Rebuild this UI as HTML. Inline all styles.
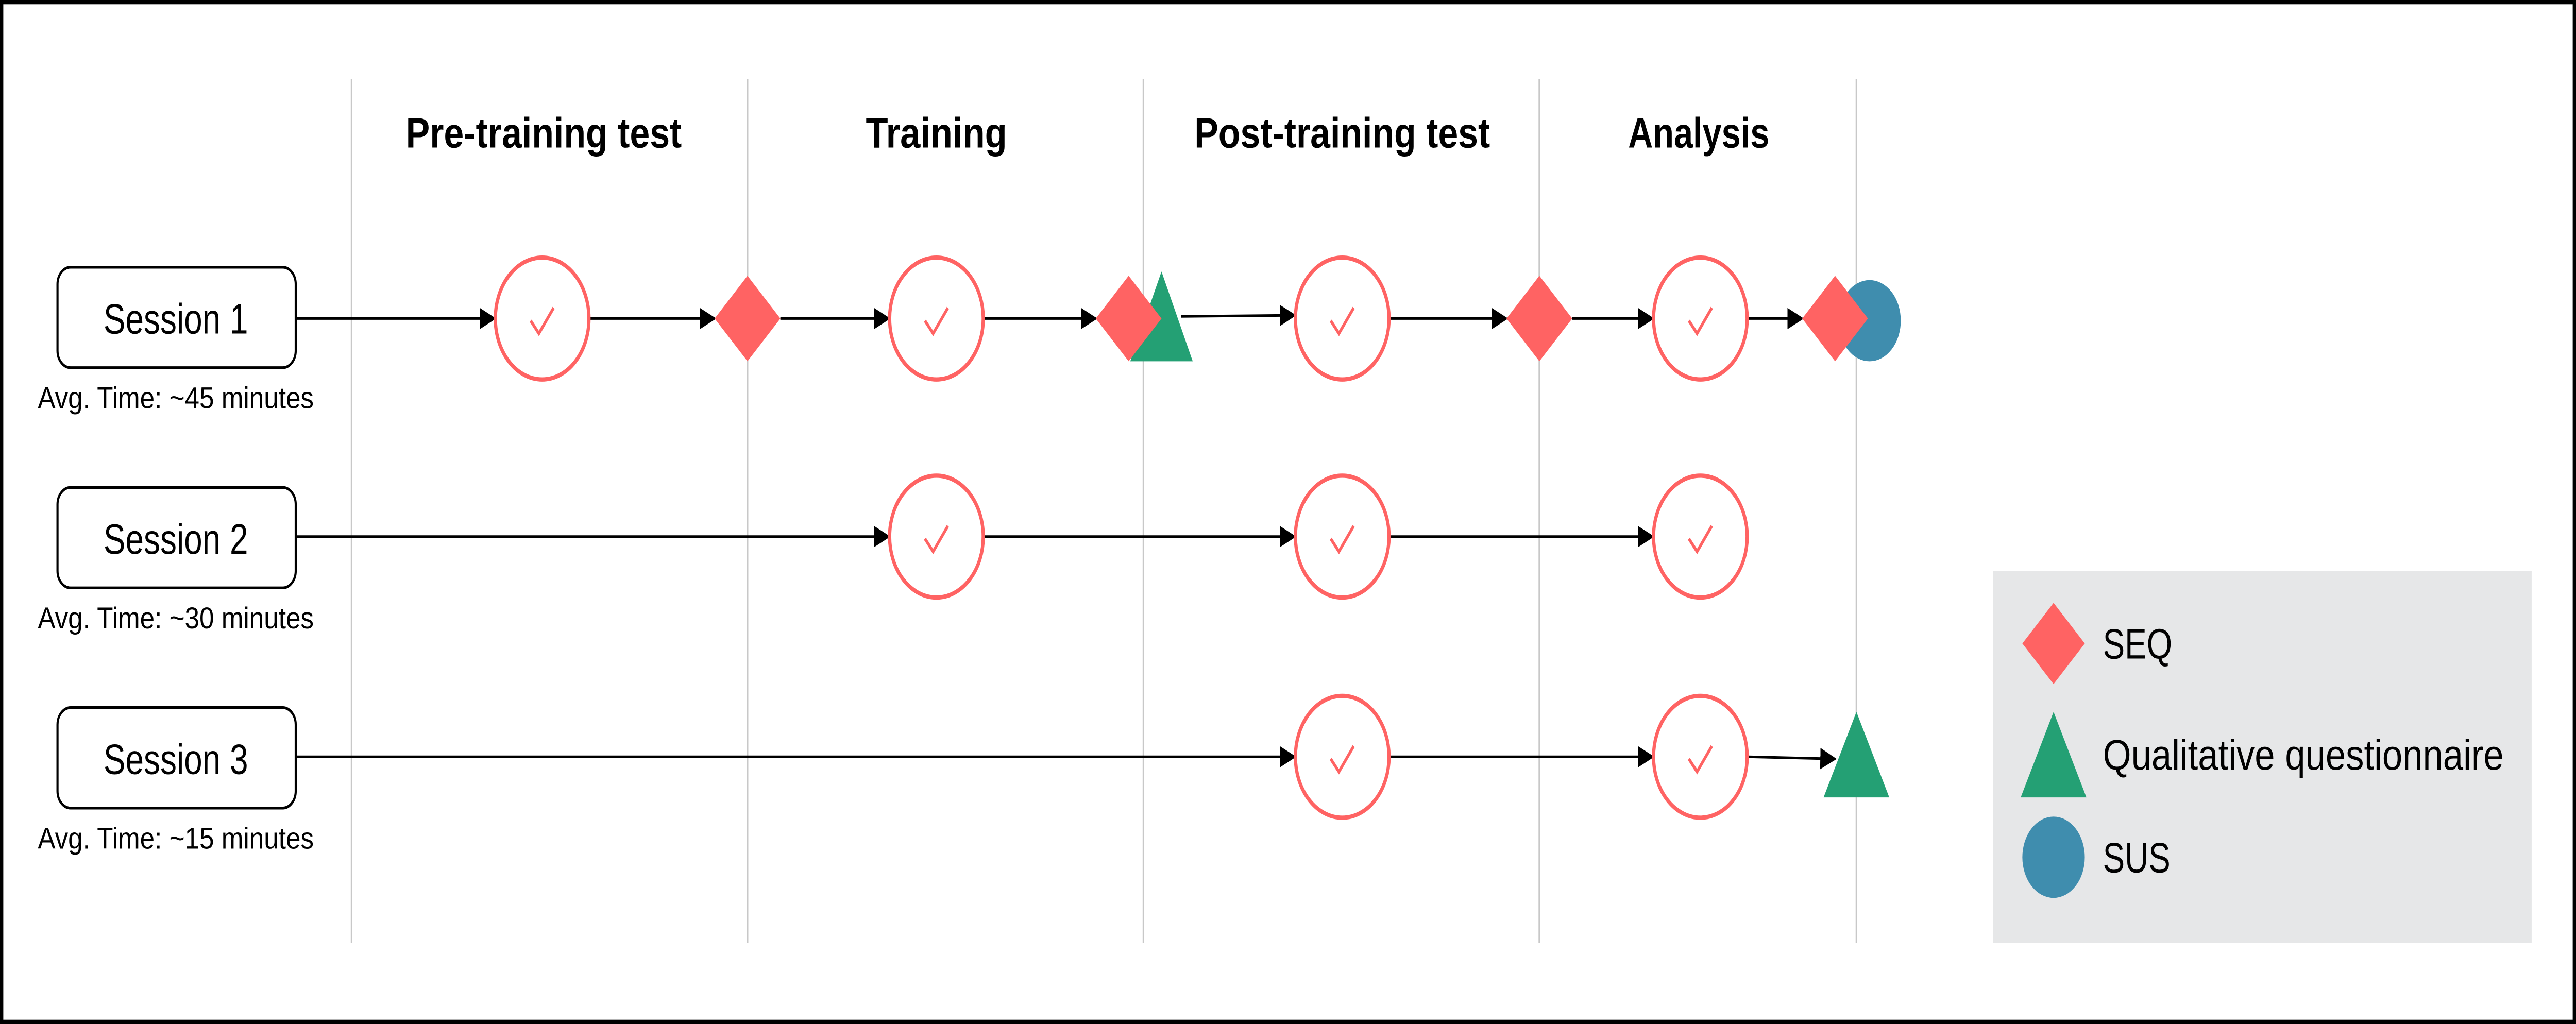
<!DOCTYPE html>
<html><head><meta charset="utf-8"><style>
html,body{margin:0;padding:0;background:#fff;width:100%;height:100%;overflow:hidden;}
svg{display:block;position:absolute;left:0;top:0;width:100vw;height:100vh;}
text{font-family:"Liberation Sans",sans-serif;}
</style></head><body>
<svg viewBox="0 0 1568 479" preserveAspectRatio="none" xmlns="http://www.w3.org/2000/svg">
<defs>
<marker id="a" markerWidth="10" markerHeight="10" refX="9" refY="5" orient="auto" markerUnits="userSpaceOnUse">
<path d="M0,0 L10,5 L0,10 Z" fill="#000"/>
</marker>
<g id="chk">
<circle r="28.5" fill="#fff" stroke="#FF6363" stroke-width="2"/>
<path d="M-7,1 L-2,7 L7,-5" fill="none" stroke="#FF6363" stroke-width="1.6"/>
</g>
</defs>
<rect x="1" y="1" width="1566" height="477" fill="#fff" stroke="#000" stroke-width="2"/>
<g stroke="#c8c8c8" stroke-width="1">
<line x1="214" y1="37" x2="214" y2="441"/>
<line x1="455" y1="37" x2="455" y2="441"/>
<line x1="696" y1="37" x2="696" y2="441"/>
<line x1="937" y1="37" x2="937" y2="441"/>
<line x1="1130" y1="37" x2="1130" y2="441"/>
</g>
<g font-weight="bold" font-size="20" text-anchor="middle">
<text x="331" y="69" textLength="168" lengthAdjust="spacingAndGlyphs">Pre-training test</text>
<text x="570" y="69" textLength="86" lengthAdjust="spacingAndGlyphs">Training</text>
<text x="817" y="69" textLength="180" lengthAdjust="spacingAndGlyphs">Post-training test</text>
<text x="1034" y="69" textLength="86" lengthAdjust="spacingAndGlyphs">Analysis</text>
</g>
<rect x="1213" y="267" width="328" height="174" fill="#E6E7E8"/>
<path d="M1250,282 L1269,301 L1250,320 L1231,301 Z" fill="#FF6363"/>
<path d="M1250,333 L1270,373 L1230,373 Z" fill="#24A074"/>
<circle cx="1250" cy="401" r="19" fill="#3F8DAE"/>
<g font-size="20">
<text x="1280" y="308">SEQ</text>
<text x="1280" y="360" textLength="244" lengthAdjust="spacingAndGlyphs">Qualitative questionnaire</text>
<text x="1280" y="408">SUS</text>
</g>
<g fill="#fff" stroke="#000" stroke-width="1.3">
<rect x="35" y="125" width="145" height="47" rx="8"/>
<rect x="35" y="228" width="145" height="47" rx="8"/>
<rect x="35" y="331" width="145" height="47" rx="8"/>
</g>
<g font-size="20" text-anchor="middle">
<text x="107" y="156" textLength="88" lengthAdjust="spacingAndGlyphs">Session 1</text>
<text x="107" y="259" textLength="88" lengthAdjust="spacingAndGlyphs">Session 2</text>
<text x="107" y="362" textLength="88" lengthAdjust="spacingAndGlyphs">Session 3</text>
</g>
<g font-size="14" text-anchor="middle">
<text x="107" y="191" textLength="168" lengthAdjust="spacingAndGlyphs">Avg. Time: ~45 minutes</text>
<text x="107" y="294" textLength="168" lengthAdjust="spacingAndGlyphs">Avg. Time: ~30 minutes</text>
<text x="107" y="397" textLength="168" lengthAdjust="spacingAndGlyphs">Avg. Time: ~15 minutes</text>
</g>
<g stroke="#000" stroke-width="1.2" marker-end="url(#a)">
<line x1="180" y1="149" x2="301" y2="149"/>
<line x1="359" y1="149" x2="435" y2="149"/>
<line x1="475" y1="149" x2="541" y2="149"/>
<line x1="599" y1="149" x2="667" y2="149"/>
<line x1="719" y1="148" x2="788" y2="147.5"/>
<line x1="846" y1="149" x2="917" y2="149"/>
<line x1="957" y1="149" x2="1006" y2="149"/>
<line x1="1064" y1="149" x2="1097" y2="149"/>
<line x1="180" y1="251" x2="541" y2="251"/>
<line x1="599" y1="251" x2="788" y2="251"/>
<line x1="846" y1="251" x2="1006" y2="251"/>
<line x1="180" y1="354" x2="788" y2="354"/>
<line x1="846" y1="354" x2="1006" y2="354"/>
<line x1="1064" y1="354" x2="1117" y2="355"/>
</g>
<use href="#chk" x="330" y="149"/>
<use href="#chk" x="570" y="149"/>
<use href="#chk" x="817" y="149"/>
<use href="#chk" x="1035" y="149"/>
<use href="#chk" x="570" y="251"/>
<use href="#chk" x="817" y="251"/>
<use href="#chk" x="1035" y="251"/>
<use href="#chk" x="817" y="354"/>
<use href="#chk" x="1035" y="354"/>
<path d="M455,129 L475,149 L455,169 L435,149 Z" fill="#FF6363"/>
<path d="M707,127 L726,169 L688,169 Z" fill="#24A074"/>
<path d="M687,129 L707,149 L687,169 L667,149 Z" fill="#FF6363"/>
<path d="M937,129 L957,149 L937,169 L917,149 Z" fill="#FF6363"/>
<circle cx="1138" cy="150" r="19" fill="#3F8DAE"/>
<path d="M1117,129 L1137,149 L1117,169 L1097,149 Z" fill="#FF6363"/>
<path d="M1130,333 L1150,373 L1110,373 Z" fill="#24A074"/>
</svg>
</body></html>
